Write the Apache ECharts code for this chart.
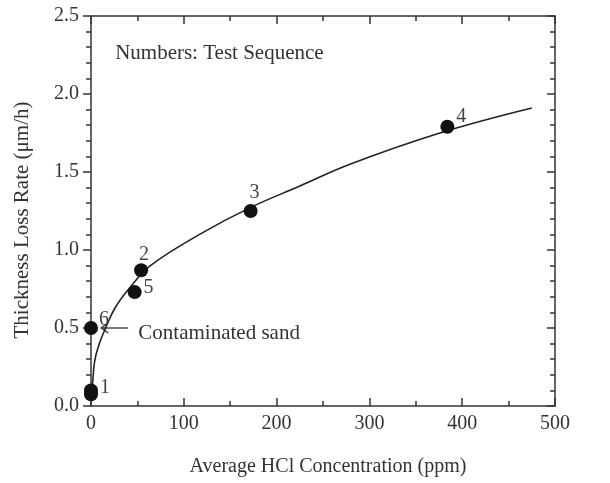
<!DOCTYPE html>
<html>
<head>
<meta charset="utf-8">
<script src="https://cdn.jsdelivr.net/npm/echarts@6/dist/echarts.min.js"></script>
<style>
html,body{margin:0;padding:0;background:#fff;}
#chart{width:610px;height:483px;}
</style>
</head>
<body>
<div id="chart"></div>
<script>
// ---- data ----
const concX   = [0, 0, 54, 172, 384, 47, 0];          // Average HCl concentration (ppm)
const rateY   = [0.075, 0.10, 0.87, 1.25, 1.79, 0.73, 0.50]; // Thickness loss rate (um/h)
const testNum = ['', '1', '2', '3', '4', '5', '6'];    // test sequence labels
const curveX  = [0.5, 1.5, 4, 9, 15, 26, 42, 64, 117, 171, 225, 279, 376, 475];
const curveY  = [0.08, 0.13, 0.29, 0.40, 0.49, 0.63, 0.76, 0.90, 1.10, 1.27, 1.41, 1.55, 1.75, 1.91];
const xTicks  = [0, 100, 200, 300, 400, 500];
const yTicks  = [0.0, 0.5, 1.0, 1.5, 2.0, 2.5];

// ---- styling (label offsets in px, separate from data) ----
const labelOffset = [[0,0],[14,-3],[3,-16],[4,-18],[14,-10],[14,-4],[13,-8]];
const FONT = 'Liberation Serif';
const INK = '#333';
const FS = 20;

const chart = echarts.init(document.getElementById('chart'), null, {renderer:'canvas'});

const grid = {left:91, right:55, top:16, bottom:77};

const axisCommon = {
  type:'value',
  axisLine:{show:true, onZero:false, lineStyle:{color:INK, width:1.5}},
  splitLine:{show:false},
};

const pts = concX.map((x,i)=>({
  value:[x, rateY[i]],
  label:{show: testNum[i] !== '', formatter: testNum[i], offset: labelOffset[i]}
}));

chart.setOption({
  animation:false,
  backgroundColor:'#fff',
  grid: grid,
  xAxis:[
    Object.assign({}, axisCommon, {
      position:'bottom', min:xTicks[0], max:xTicks[xTicks.length-1], interval:xTicks[1]-xTicks[0],
      axisTick:{show:true, inside:true, length:8, lineStyle:{color:INK, width:1.5}},
      minorTick:{show:true, splitNumber:2, length:5, lineStyle:{color:INK, width:1.5}},
      axisLabel:{show:true, fontFamily:FONT, fontSize:FS, color:INK, margin:8},
    }),
    Object.assign({}, axisCommon, {
      position:'top', min:xTicks[0], max:xTicks[xTicks.length-1], interval:xTicks[1]-xTicks[0],
      axisTick:{show:true, inside:true, length:8, lineStyle:{color:INK, width:1.5}},
      minorTick:{show:true, splitNumber:2, length:5, lineStyle:{color:INK, width:1.5}},
      axisLabel:{show:false},
    })
  ],
  yAxis:[
    Object.assign({}, axisCommon, {
      position:'left', min:yTicks[0], max:yTicks[yTicks.length-1], interval:yTicks[1]-yTicks[0],
      axisTick:{show:true, inside:false, length:8, lineStyle:{color:INK, width:1.5}},
      minorTick:{show:true, splitNumber:5, length:5, lineStyle:{color:INK, width:1.5}},
      axisLabel:{show:true, fontFamily:FONT, fontSize:FS, color:INK, margin:12,
        formatter:(v)=>v.toFixed(1)},
    }),
    Object.assign({}, axisCommon, {
      position:'right', min:yTicks[0], max:yTicks[yTicks.length-1], interval:yTicks[1]-yTicks[0],
      axisTick:{show:true, inside:true, length:8, lineStyle:{color:INK, width:1.5}},
      minorTick:{show:true, splitNumber:5, length:5, lineStyle:{color:INK, width:1.5}},
      axisLabel:{show:false},
    })
  ],
  series:[
    {
      type:'line', xAxisIndex:0, yAxisIndex:0,
      data: curveX.map((x,i)=>[x, curveY[i]]),
      smooth:0.4, showSymbol:false, symbol:'none',
      lineStyle:{color:'#222', width:1.6},
      z:2
    },
    {
      type:'scatter', xAxisIndex:0, yAxisIndex:0,
      data: pts,
      symbol:'circle', symbolSize:14,
      itemStyle:{color:'#111', opacity:1},
      label:{show:true, position:'inside', fontFamily:FONT, fontSize:FS, color:'#444'},
      z:3
    }
  ]
});

// ---- annotations placed through the axes ----
function px(x,y){ return chart.convertToPixel({xAxisIndex:0, yAxisIndex:0}, [x,y]); }
const noteAnchor = px(26, 2.26);
const arrowTip = px(11, 0.5);
const arrowEnd = px(40, 0.5);
const sandText = px(51, 0.465);
const plotL = px(0,0)[0], plotR = px(500,0)[0], plotT = px(0,2.5)[1], plotB = px(0,0)[1];

chart.setOption({
  graphic:[
    {type:'text', x:noteAnchor[0], y:noteAnchor[1],
      style:{text:'Numbers: Test Sequence', font:(FS+1)+'px "'+FONT+'"', fill:INK, verticalAlign:'middle'}},
    {type:'text', x:sandText[0], y:sandText[1],
      style:{text:'Contaminated sand', font:(FS+1)+'px "'+FONT+'"', fill:INK, verticalAlign:'middle'}},
    {type:'polyline', shape:{points:[[arrowTip[0],arrowTip[1]],[arrowEnd[0],arrowEnd[1]]]},
      style:{stroke:INK, lineWidth:1.3, fill:null}},
    {type:'polyline', shape:{points:[[arrowTip[0]+7,arrowTip[1]-5],[arrowTip[0],arrowTip[1]],[arrowTip[0]+7,arrowTip[1]+5]]},
      style:{stroke:INK, lineWidth:1.3, fill:null}},
    {type:'text', x:22, y:(plotT+plotB)/2 + 9, rotation:Math.PI/2,
      style:{text:'Thickness Loss Rate (\u03bcm/h)', font:(FS+1)+'px "'+FONT+'"', fill:INK, align:'center', verticalAlign:'middle'}},
    {type:'text', x:(plotL+plotR)/2 + 5, y:467,
      style:{text:'Average HCl Concentration (ppm)', font:FS+'px "'+FONT+'"', fill:INK, align:'center', verticalAlign:'middle'}}
  ]
});
</script>
</body>
</html>
